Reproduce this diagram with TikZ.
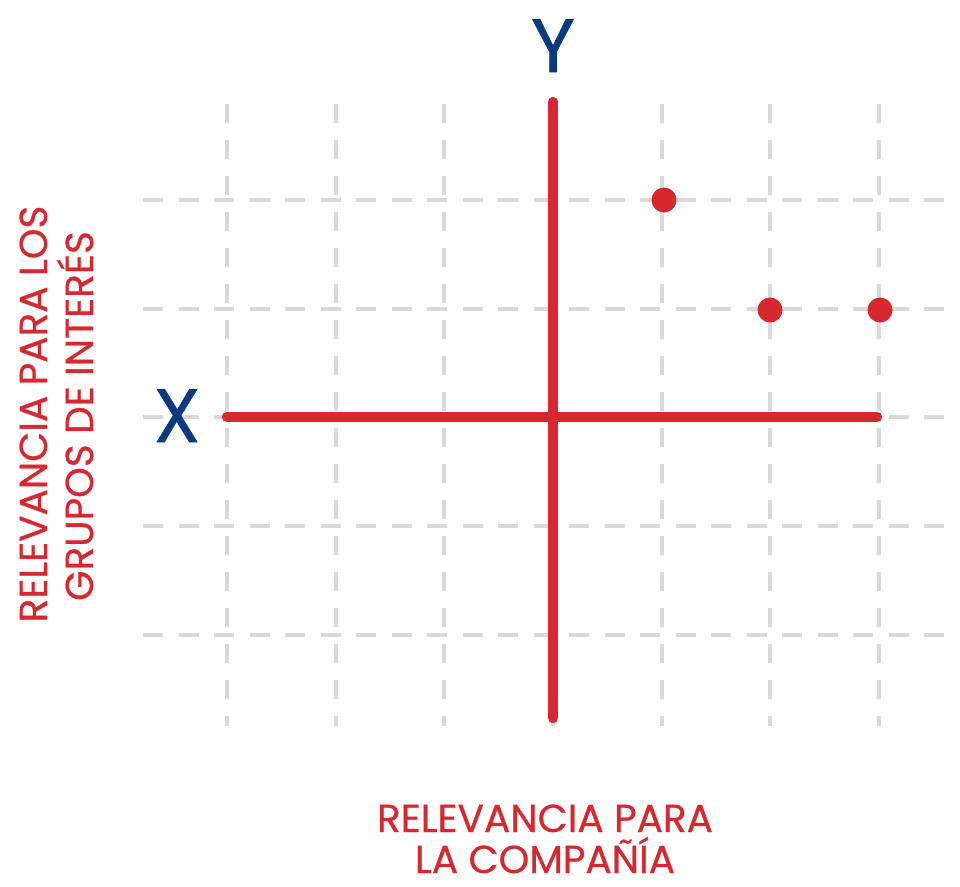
\documentclass[tikz,border=0pt]{standalone}
\usepackage{fontspec}
\setmainfont{Poppins}
\newfontfamily\labelfont{Poppins}[FakeBold=0.7]
\definecolor{axisred}{HTML}{D7282F}
\definecolor{labelblue}{HTML}{0B3A80}
\definecolor{gridgrey}{HTML}{D9D9D9}
\begin{document}
\begin{tikzpicture}[x=1pt,y=-1pt,
  gridv/.style={draw=gridgrey,line width=3.5pt,dash pattern=on 19pt off 17pt},
  gridh/.style={draw=gridgrey,line width=3.5pt,dash pattern=on 20pt off 15.5pt},
  axisline/.style={draw=axisred,line width=10.5pt,line cap=round},
  dotmark/.style={circle,fill=axisred,minimum size=25pt,inner sep=0pt},
  bigletter/.style={text=labelblue,font=\labelfont\fontsize{76}{80}\selectfont,inner sep=0pt},
  axistitle/.style={text=axisred,font=\labelfont\fontsize{39}{43}\selectfont,inner sep=0pt,text depth=0pt}]
\path[use as bounding box] (0,0) rectangle (960,886);
% grid
\foreach \gy in {200,309,417,526,635}
  \draw[gridh] (143,\gy) -- (960,\gy);
\foreach \gx in {227,336,444,553,662,770,879}
  \draw[gridv] (\gx,104) -- (\gx,726);
% axes
\coordinate (xl) at (227,417);
\coordinate (xr) at (877,417);
\coordinate (yt) at (553,102);
\coordinate (yb) at (553,718);
\draw[axisline] (xl) -- (xr);
\draw[axisline] (yt) -- (yb);
% dots
\node[dotmark] (d1) at (664,200) {};
\node[dotmark] (d2) at (770,310) {};
\node[dotmark] (d3) at (880,310) {};
% labels
\node[bigletter,anchor=base] (ylab) at (553,72) {Y};
\node[bigletter,anchor=base] (xlab) at (177,442) {X};
\node[axistitle,anchor=base] (xtitle1) at (545,832) {RELEVANCIA PARA};
\node[axistitle,anchor=base] (xtitle2) at (545,873) {LA COMPAÑÍA};
\node[axistitle,rotate=90,anchor=base] (ytitle1) at (47,414) {RELEVANCIA PARA LOS};
\node[axistitle,rotate=90,anchor=base] (ytitle2) at (93,416) {GRUPOS DE INTERÉS};
\end{tikzpicture}
\end{document}
